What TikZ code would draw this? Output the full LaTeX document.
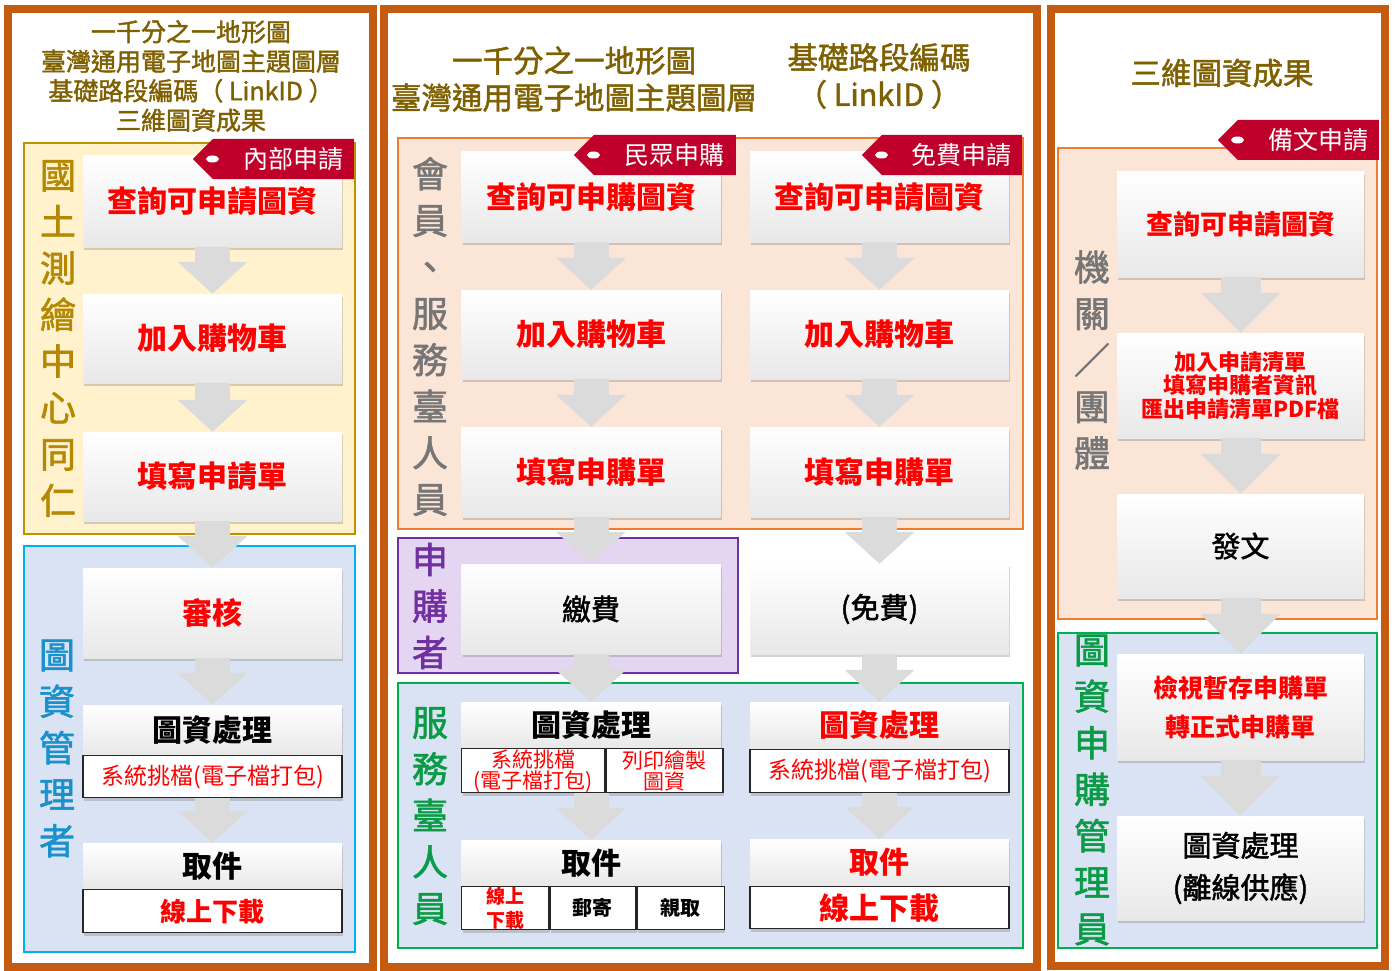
\documentclass[tikz,border=0pt]{standalone}
\usepackage{fontspec}
\setmainfont{Noto Sans CJK TC}
\newfontfamily\medfont{Noto Sans CJK TC}[FakeBold=1.6]
\usetikzlibrary{positioning,shadows,shapes.symbols,arrows.meta}

\definecolor{framebrown}{RGB}{197,90,17}
\definecolor{tagred}{RGB}{190,0,42}
\definecolor{titleolive}{RGB}{127,96,0}
\definecolor{goldlbl}{RGB}{180,136,0}
\definecolor{bluelbl}{RGB}{25,145,205}
\definecolor{graylbl}{RGB}{118,118,118}
\definecolor{purplelbl}{RGB}{112,48,160}
\definecolor{greenlbl}{RGB}{10,155,70}
\definecolor{yfill}{RGB}{255,242,204}
\definecolor{yline}{RGB}{191,144,0}
\definecolor{bfill}{RGB}{218,227,243}
\definecolor{bline}{RGB}{0,176,240}
\definecolor{ofill}{RGB}{251,229,214}
\definecolor{oline}{RGB}{237,125,49}
\definecolor{pfill}{RGB}{228,213,242}
\definecolor{gline}{RGB}{0,176,80}

\begin{document}
\begin{tikzpicture}[
  x=1pt, y=-1pt,
  panel/.style={draw=framebrown, line width=8pt},
  region/.style={line width=1.5pt},
  ptitle/.style={align=center, text=titleolive, inner sep=0pt},
  vlabel/.style={align=center, inner sep=0pt, font=\fontsize{36}{46.5}\medfont},
  stepbox/.style={rectangle, minimum width=259pt, minimum height=89pt, inner sep=0pt,
    top color=white, middle color=white, bottom color=black!9,
    drop shadow={shadow xshift=1pt, shadow yshift=-3pt, opacity=0.35}},
  cell/.style={rectangle, draw=black!85, line width=1.1pt, fill=white, inner sep=0pt, align=center,
    drop shadow={shadow xshift=1pt, shadow yshift=-3pt, opacity=0.35}},
  redtxt/.style={text=red, font=\fontsize{30}{35}\selectfont\bfseries},
  blktxt/.style={text=black, font=\fontsize{30}{35}\selectfont\bfseries},
  plaintxt/.style={text=black, font=\fontsize{29}{34}\medfont},
  smalltxt/.style={text=red, font=\fontsize{23}{27}\selectfont},
  tag/.style={signal, signal to=west, signal pointer angle=90, fill=tagred, text=white,
    minimum height=40pt, inner sep=0pt, anchor=east, font=\fontsize{25}{30}\selectfont},
  flow/.style={line width=35pt, draw=black!14, -{Triangle[width=70pt, length=32pt, line width=0pt]}},
  flowwide/.style={line width=40pt, draw=black!14, -{Triangle[width=80pt, length=40pt, line width=0pt]}},
]
\useasboundingbox (0,0) rectangle (1395,971);
\fill[white] (0,0) rectangle (1395,971);

% --- frames and regions ---
\draw[panel] (8,9) rectangle (373,967);
\draw[panel] (384,9) rectangle (1037,967);
\draw[panel] (1051,9) rectangle (1385,966);

\draw[region, draw=yline, fill=yfill] (24,143) rectangle (355,534);
\draw[region, draw=bline, fill=bfill] (24,546) rectangle (355,952);
\draw[region, draw=oline, fill=ofill] (398,138) rectangle (1023,529);
\draw[region, draw=purplelbl, fill=pfill] (398,538) rectangle (738,673);
\draw[region, draw=gline, fill=bfill] (398,683) rectangle (1023,948);
\draw[region, draw=oline, fill=ofill] (1058,148) rectangle (1377,619);
\draw[region, draw=gline, fill=bfill] (1058,633) rectangle (1377,948);

% --- titles ---
\node[ptitle, font=\fontsize{25}{29.5}\medfont] (title1) at (191,76)
  {一千分之一地形圖\\臺灣通用電子地圖主題圖層\\基礎路段編碼（ LinkID ）\\三維圖資成果};
\node[ptitle, font=\fontsize{30.5}{37}\medfont] (title2a) at (574,79)
  {一千分之一地形圖\\臺灣通用電子地圖主題圖層};
\node[ptitle, font=\fontsize{30.5}{37}\medfont] (title2b) at (879,76)
  {基礎路段編碼\\（ LinkID ）};
\node[ptitle, font=\fontsize{30.5}{37}\medfont] (title3) at (1222,73) {三維圖資成果};

% --- side labels ---
\node[vlabel, text=goldlbl] (lblstaff) at (58,338.5) {國\\土\\測\\繪\\中\\心\\同\\仁};
\node[vlabel, text=bluelbl] (lbladmin) at (57,748.5) {圖\\資\\管\\理\\者};
\node[vlabel, text=graylbl] (lblmember) at (430,336.5) {會\\員\\、\\服\\務\\臺\\人\\員};
\node[vlabel, text=purplelbl] (lblbuyer) at (430,606) {申\\購\\者};
\node[vlabel, text=greenlbl] (lbldesk) at (430,816) {服\\務\\臺\\人\\員};
\node[vlabel, text=graylbl] (lblorg) at (1092,360) {機\\關\\／\\團\\體};
\node[vlabel, text=greenlbl] (lblbuyadmin) at (1092,790) {圖\\資\\申\\購\\管\\理\\員};

% --- internal request (left) ---
\node[stepbox, minimum height=91pt, redtxt] (n1q) at (212.5,201.5) {查詢可申請圖資};
\node[stepbox, redtxt] (n1c) at (212.5,338.5) {加入購物車};
\node[stepbox, redtxt] (n1f) at (212.5,476.5) {填寫申請單};
\node[stepbox, minimum height=90pt, redtxt] (n1r) at (212.5,613) {審核};
\node[stepbox, minimum height=50pt, blktxt] (n1p) at (212.5,730) {圖資處理};
\node[cell, minimum width=259pt, minimum height=42pt, smalltxt, below=0pt of n1p] (n1ps) {系統挑檔(電子檔打包)};
\node[stepbox, minimum height=46pt, blktxt] (n1g) at (212.5,866) {取件};
\node[cell, minimum width=259pt, minimum height=43pt, text=red, font=\fontsize{26}{30}\selectfont\bfseries, below=0pt of n1g] (n1gd) {線上下載};
\node[tag, minimum width=161pt] (tag1) at (354,159) {\hspace{20pt}內部申請};
\fill[white] ([xshift=20pt]tag1.west) ellipse [x radius=6.5pt, y radius=3.5pt];

% --- public purchase (middle, column A) ---
\node[stepbox, minimum height=90pt, redtxt] (nAq) at (591,197) {查詢可申購圖資};
\node[stepbox, redtxt] (nAc) at (591,334.5) {加入購物車};
\node[stepbox, minimum height=90pt, redtxt] (nAf) at (591,472) {填寫申購單};
\node[stepbox, minimum height=90pt, plaintxt] (nAp) at (591,609) {繳費};
\node[stepbox, minimum height=46pt, blktxt] (nAt) at (591,725) {圖資處理};
\node[cell, minimum width=143pt, minimum height=44pt, text=red, font=\fontsize{21}{21}\selectfont,
  anchor=north west] (nAs1) at (nAt.south west) {系統挑檔\\(電子檔打包)};
\node[cell, minimum width=117pt, minimum height=44pt, text=red, font=\fontsize{21}{21}\selectfont,
  right=0pt of nAs1] (nAs2) {列印繪製\\圖資};
\node[stepbox, minimum height=46pt, blktxt] (nAg) at (591,863) {取件};
\node[cell, minimum width=87pt, minimum height=43pt, text=red, font=\fontsize{19}{24}\selectfont\bfseries,
  anchor=north west] (nAg1) at (nAg.south west) {線上\\下載};
\node[cell, minimum width=86pt, minimum height=43pt, font=\fontsize{20}{24}\selectfont\bfseries,
  right=0pt of nAg1] (nAg2) {郵寄};
\node[cell, minimum width=87pt, minimum height=43pt, font=\fontsize{20}{24}\selectfont\bfseries,
  right=0pt of nAg2] (nAg3) {親取};
\node[tag, minimum width=162pt] (tagA) at (736,155) {\hspace{20pt}民眾申購};
\fill[white] ([xshift=20pt]tagA.west) ellipse [x radius=6.5pt, y radius=3.5pt];

% --- free request (middle, column B) ---
\node[stepbox, minimum height=90pt, redtxt] (nBq) at (879.5,197) {查詢可申請圖資};
\node[stepbox, redtxt] (nBc) at (879.5,334.5) {加入購物車};
\node[stepbox, minimum height=90pt, redtxt] (nBf) at (879.5,472) {填寫申購單};
\node[stepbox, minimum height=90pt, plaintxt] (nBp) at (879.5,609) {(免費)};
\node[stepbox, minimum height=47pt, redtxt] (nBt) at (879.5,725.5) {圖資處理};
\node[cell, minimum width=259pt, minimum height=43pt, smalltxt, below=0pt of nBt] (nBs) {系統挑檔(電子檔打包)};
\node[stepbox, minimum height=47pt, redtxt] (nBg) at (879.5,862.5) {取件};
\node[cell, minimum width=259pt, minimum height=42pt, redtxt, below=0pt of nBg] (nBgd) {線上下載};
\node[tag, minimum width=160pt] (tagB) at (1022,155) {\hspace{20pt}免費申請};
\fill[white] ([xshift=20pt]tagB.west) ellipse [x radius=6.5pt, y radius=3.5pt];

% --- official letter (right) ---
\node[stepbox, minimum width=247pt, minimum height=105pt, text=red, font=\fontsize{27}{32}\selectfont\bfseries] (nCq) at (1240.5,224.5) {查詢可申請圖資};
\node[stepbox, minimum width=247pt, minimum height=105pt, align=center, text=red, font=\fontsize{22}{23.5}\selectfont\bfseries] (nCl) at (1240.5,385.5)
  {加入申請清單\\填寫申購者資訊\\匯出申請清單PDF檔};
\node[stepbox, minimum width=247pt, minimum height=104pt, plaintxt] (nCd) at (1240.5,546) {發文};
\node[stepbox, minimum width=247pt, minimum height=106pt, align=center, text=red, font=\fontsize{25}{39}\selectfont\bfseries] (nCv) at (1240.5,707)
  {檢視暫存申購單\\轉正式申購單};
\node[stepbox, minimum width=247pt, minimum height=104pt, align=center, plaintxt, font=\fontsize{29}{42}\medfont] (nCo) at (1240.5,868)
  {圖資處理\\(離線供應)};
\node[tag, minimum width=161pt] (tagC) at (1379,140) {\hspace{20pt}備文申請};
\fill[white] ([xshift=20pt]tagC.west) ellipse [x radius=6.5pt, y radius=3.5pt];

% --- flow arrows ---
\draw[flow] (n1q.south) -- (n1c.north);
\draw[flow] (n1c.south) -- (n1f.north);
\draw[flow] (n1f.south) -- (n1r.north);
\draw[flow] (n1r.south) -- (n1p.north);
\draw[flow] (n1ps.south) -- (n1g.north);

\draw[flow] (nAq.south) -- (nAc.north);
\draw[flow] (nAc.south) -- (nAf.north);
\draw[flow] (nAf.south) -- (nAp.north);
\draw[flow] (nAp.south) -- (nAt.north);
\draw[flow] (nAt.south |- nAs1.south) -- (nAg.north);

\draw[flow] (nBq.south) -- (nBc.north);
\draw[flow] (nBc.south) -- (nBf.north);
\draw[flow] (nBf.south) -- (nBp.north);
\draw[flow] (nBp.south) -- (nBt.north);
\draw[flow] (nBs.south) -- (nBg.north);

\draw[flowwide] (nCq.south) -- (nCl.north);
\draw[flowwide] (nCl.south) -- (nCd.north);
\draw[flowwide] (nCd.south) -- (nCv.north);
\draw[flowwide] (nCv.south) -- (nCo.north);

\end{tikzpicture}
\end{document}
